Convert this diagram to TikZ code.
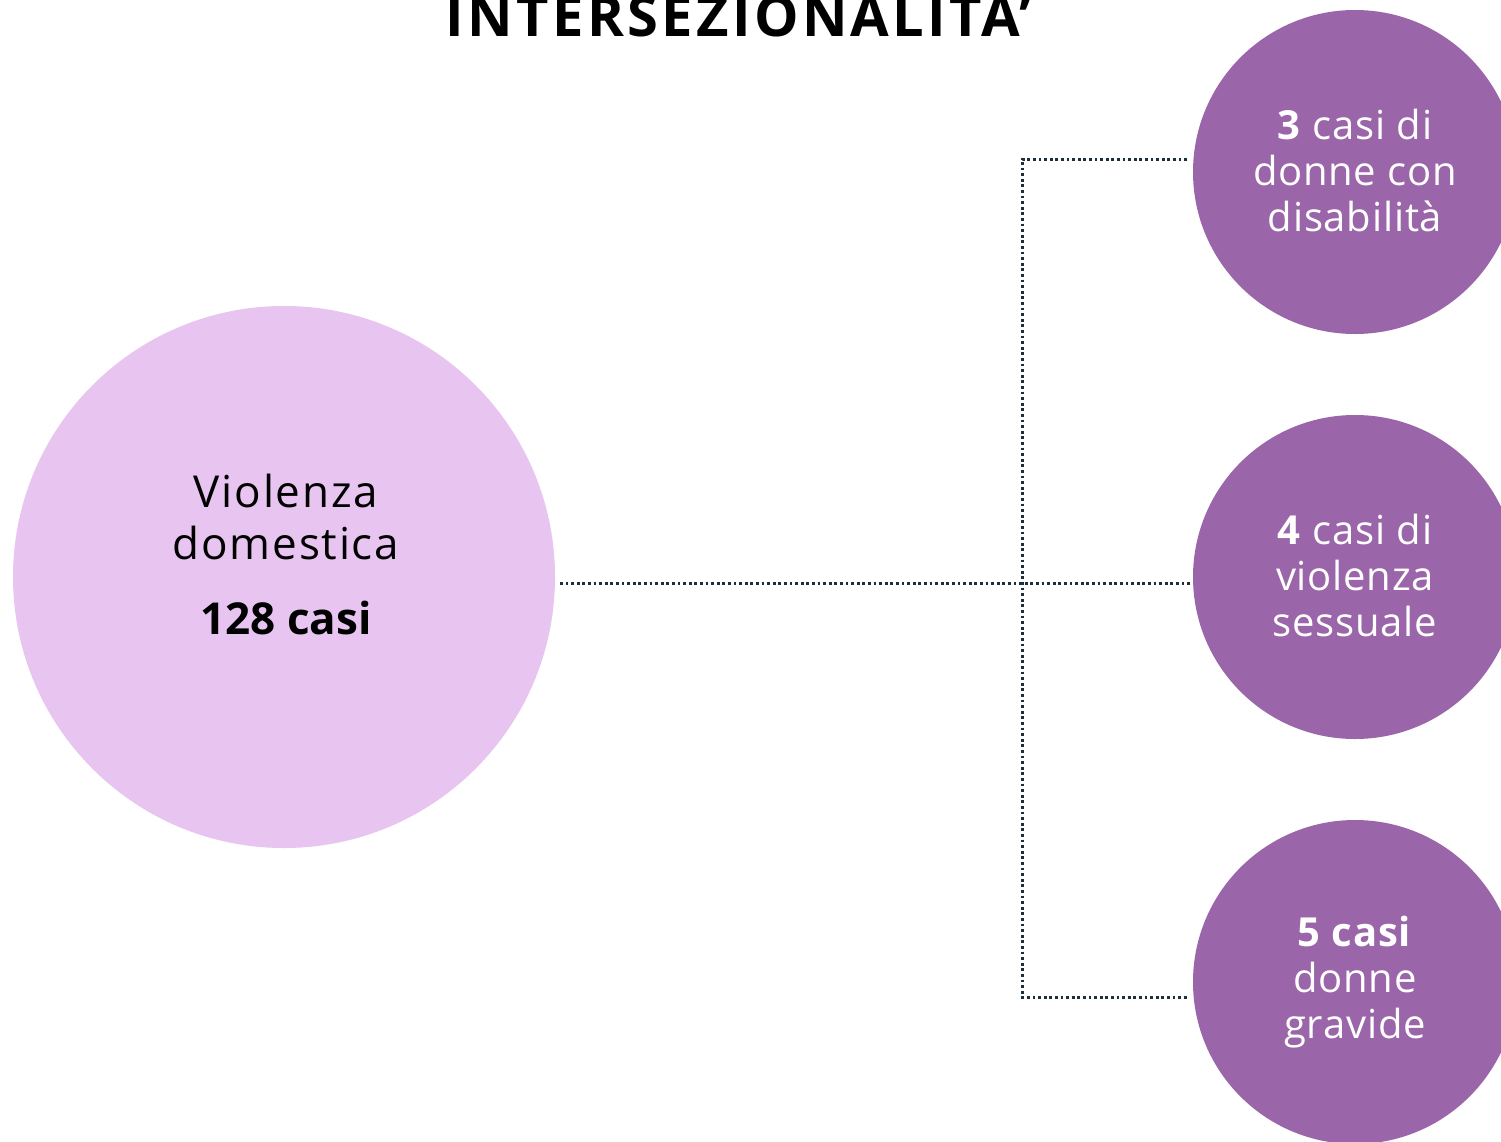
\documentclass[tikz,border=0pt]{standalone}
\usepackage{fontspec}
\setmainfont{Open Sans}
\definecolor{lightlilac}{HTML}{E8C4F0}
\definecolor{purplebox}{HTML}{9A65A9}
\definecolor{dotcol}{HTML}{1E2F3C}
\tikzset{
  bigcirc/.style={circle, fill=lightlilac, minimum size=542pt, inner sep=0pt},
  smallcirc/.style={circle, fill=purplebox, minimum size=324pt, inner sep=0pt},
  conn/.style={draw=dotcol, line width=3pt, dash pattern=on 2.8pt off 2.8pt},
  bigtext/.style={align=center, text=black, font=\fontsize{44}{52}\selectfont\addfontfeatures{LetterSpace=4}},
  smalltext/.style={align=center, text=white, font=\fontsize{40}{46}\selectfont\addfontfeatures{LetterSpace=2}},
}
\begin{document}
\begin{tikzpicture}[x=1pt,y=-1pt]
\useasboundingbox (0,0) rectangle (1501,1141);
\clip (0,0) rectangle (1501,1141);
\fill[white] (0,0) rectangle (1501,1141);
\node[anchor=base, font=\fontsize{56}{60}\selectfont\bfseries\addfontfeatures{LetterSpace=6}] (title) at (739,36) {INTERSEZIONALITA’};
\node[bigcirc] (big) at (284,577) {};
\node[smallcirc] (c1) at (1355,172) {};
\node[smallcirc] (c2) at (1355,577) {};
\node[smallcirc] (c3) at (1355,982) {};
\node[bigtext, anchor=center] (t1) at (286,517) {Violenza\\domestica};
\node[bigtext, anchor=center, font=\fontsize{44}{52}\selectfont\bfseries] (t2) at (286,618) {128 casi};
\node[smalltext] (s1) at (1355,170) {\textbf{3} casi di\\donne con\\disabilità};
\node[smalltext] (s2) at (1355,575) {\textbf{4} casi di\\violenza\\sessuale};
\node[smalltext] (s3) at (1355,982) {\textbf{5 casi}\\donne\\gravide};
\coordinate (h0) at (560,583);
\coordinate (j) at (1022,583);
\coordinate (h1) at (1190,583);
\coordinate (jt) at (1022,159);
\coordinate (et) at (1187,159);
\coordinate (jb) at (1022,997);
\coordinate (eb) at (1188,997);
\draw[conn] (h0) -- (h1);
\draw[conn] (et) -- (jt) -- (jb) -- (eb);
\end{tikzpicture}
\end{document}
